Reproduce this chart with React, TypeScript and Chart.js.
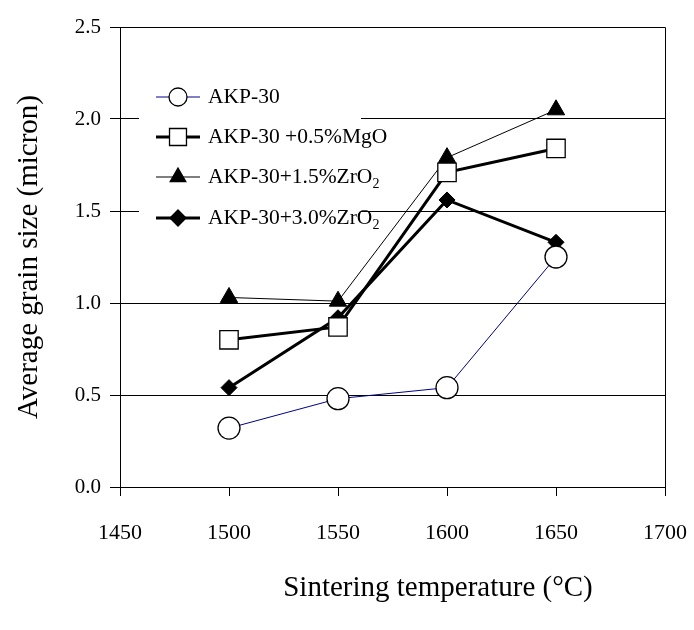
import React, { useEffect, useRef } from "react";
import { Chart, registerables } from "chart.js";
Chart.register(...registerables);

const temperatures = [1500, 1550, 1600, 1650];
const akp30 = [0.32, 0.48, 0.54, 1.25];
const akp30MgO = [0.8, 0.87, 1.71, 1.84];
const akp30Zr15 = [1.03, 1.01, 1.79, 2.05];
const akp30Zr30 = [0.54, 0.92, 1.56, 1.33];

const seriesMain = ["AKP-30", "AKP-30 +0.5%MgO", "AKP-30+1.5%ZrO", "AKP-30+3.0%ZrO"];
const seriesSub = ["", "", "2", "2"];

const xTitle = "Sintering temperature (\u00B0C)";
const yTitle = "Average grain size (micron)";

const FONT = "'Liberation Serif', 'Times New Roman', serif";

function drawMarker(ctx: CanvasRenderingContext2D, style: string, x: number, y: number, r: number, fill: string) {
  ctx.save();
  ctx.beginPath();
  if (style === "circle") {
    ctx.arc(x, y, r, 0, Math.PI * 2);
  } else if (style === "rect") {
    const s = r * Math.SQRT1_2;
    ctx.rect(x - s, y - s, 2 * s, 2 * s);
  } else if (style === "triangle") {
    for (let i = 0; i < 3; i++) {
      const a = (i * 2 * Math.PI) / 3;
      const px = x + Math.sin(a) * r;
      const py = y - Math.cos(a) * r;
      if (i === 0) ctx.moveTo(px, py);
      else ctx.lineTo(px, py);
    }
    ctx.closePath();
  } else if (style === "rectRot") {
    ctx.moveTo(x, y - r);
    ctx.lineTo(x + r, y);
    ctx.lineTo(x, y + r);
    ctx.lineTo(x - r, y);
    ctx.closePath();
  }
  ctx.fillStyle = fill;
  ctx.fill();
  ctx.lineWidth = 1.3;
  ctx.strokeStyle = "#000";
  ctx.stroke();
  ctx.restore();
}

const legendPlugin = {
  id: "customLegend",
  beforeDatasetsDraw(chart: any) {
    const ctx = chart.ctx as CanvasRenderingContext2D;
    ctx.save();
    ctx.fillStyle = "#fff";
    ctx.fillRect(139, 78, 222, 158);
    const rows = [97, 137, 177, 218];
    const markerR = [9, 12, 9, 8];
    chart.data.datasets.forEach((ds: any, i: number) => {
      const y = rows[i];
      ctx.beginPath();
      ctx.moveTo(156, y);
      ctx.lineTo(200, y);
      ctx.lineWidth = ds.borderWidth;
      ctx.strokeStyle = ds.borderColor;
      ctx.stroke();
      drawMarker(ctx, ds.pointStyle, 178, y, markerR[i], ds.pointBackgroundColor);
      ctx.fillStyle = "#000";
      ctx.font = `21.5px ${FONT}`;
      ctx.textBaseline = "middle";
      ctx.textAlign = "left";
      ctx.fillText(seriesMain[i], 208, y);
      if (seriesSub[i]) {
        const w = ctx.measureText(seriesMain[i]).width;
        ctx.font = `14px ${FONT}`;
        ctx.fillText(seriesSub[i], 208 + w, y + 7);
      }
    });
    ctx.restore();
  },
  afterDraw(chart: any) {
    const ctx = chart.ctx as CanvasRenderingContext2D;
    const a = chart.chartArea;
    ctx.save();
    ctx.strokeStyle = "#000";
    ctx.lineWidth = 1;
    ctx.beginPath();
    ctx.moveTo(a.left, a.top + 0.5);
    ctx.lineTo(a.right + 0.5, a.top + 0.5);
    ctx.lineTo(a.right + 0.5, a.bottom);
    ctx.stroke();
    ctx.fillStyle = "#000";
    ctx.font = `29px ${FONT}`;
    ctx.textAlign = "center";
    ctx.textBaseline = "middle";
    ctx.fillText(xTitle, 438, 588);
    ctx.translate(29, (a.top + a.bottom) / 2);
    ctx.rotate(-Math.PI / 2);
    ctx.fillText(yTitle, 0, 0);
    ctx.restore();
  },
};

export default function App() {
  const ref = useRef<HTMLCanvasElement | null>(null);
  useEffect(() => {
    if (!ref.current) return;
    const mk = (data: number[]) => data.map((v, i) => ({ x: temperatures[i], y: v }));
    const chart = new Chart(ref.current, {
      type: "line",
      data: {
        datasets: [
          {
            label: seriesMain[0],
            data: mk(akp30),
            borderColor: "#00008B",
            borderWidth: 1,
            pointStyle: "circle",
            pointRadius: 11,
            pointBackgroundColor: "#fff",
            pointBorderColor: "#000",
            pointBorderWidth: 1.3,
          },
          {
            label: seriesMain[1],
            data: mk(akp30MgO),
            borderColor: "#000",
            borderWidth: 3,
            pointStyle: "rect",
            pointRadius: 13,
            pointBackgroundColor: "#fff",
            pointBorderColor: "#000",
            pointBorderWidth: 1.3,
          },
          {
            label: seriesMain[2],
            data: mk(akp30Zr15),
            borderColor: "#000",
            borderWidth: 1,
            pointStyle: "triangle",
            pointRadius: 10,
            pointBackgroundColor: "#000",
            pointBorderColor: "#000",
            pointBorderWidth: 1,
          },
          {
            label: seriesMain[3],
            data: mk(akp30Zr30),
            borderColor: "#000",
            borderWidth: 3,
            pointStyle: "rectRot",
            pointRadius: 8,
            pointBackgroundColor: "#000",
            pointBorderColor: "#000",
            pointBorderWidth: 1,
          },
        ] as any,
      },
      options: {
        animation: false,
        responsive: false,
        devicePixelRatio: 1,
        layout: { padding: { left: 0, top: 27, right: 29, bottom: 0 } },
        plugins: { legend: { display: false }, tooltip: { enabled: false } },
        scales: {
          x: {
            type: "linear",
            min: 1450,
            max: 1700,
            afterFit: (s: any) => {
              s.height = 143;
              s.paddingLeft = 0;
              s.paddingRight = 0;
            },
            ticks: {
              stepSize: 50,
              color: "#000",
              font: { family: FONT, size: 22 },
              padding: 24,
              maxRotation: 0,
              callback: (v: any) => String(v),
            },
            grid: { drawOnChartArea: false, drawTicks: true, tickLength: 9, color: "#000" },
            border: { color: "#000", width: 1 },
          },
          y: {
            min: 0,
            max: 2.5,
            afterFit: (s: any) => {
              s.width = 120;
            },
            ticks: {
              stepSize: 0.5,
              color: "#000",
              font: { family: FONT, size: 21 },
              padding: 9,
              callback: (v: any) => Number(v).toFixed(1),
            },
            grid: { color: "#000", lineWidth: 1, drawTicks: true, tickLength: 10 },
            border: { color: "#000", width: 1 },
          },
        },
      },
      plugins: [legendPlugin],
    });
    return () => chart.destroy();
  }, []);
  return (
    <div style={{ position: "absolute", left: 0, top: 0, width: 694, height: 630, background: "#fff" }}>
      <canvas ref={ref} width={694} height={630} style={{ width: 694, height: 630 }} />
    </div>
  );
}
